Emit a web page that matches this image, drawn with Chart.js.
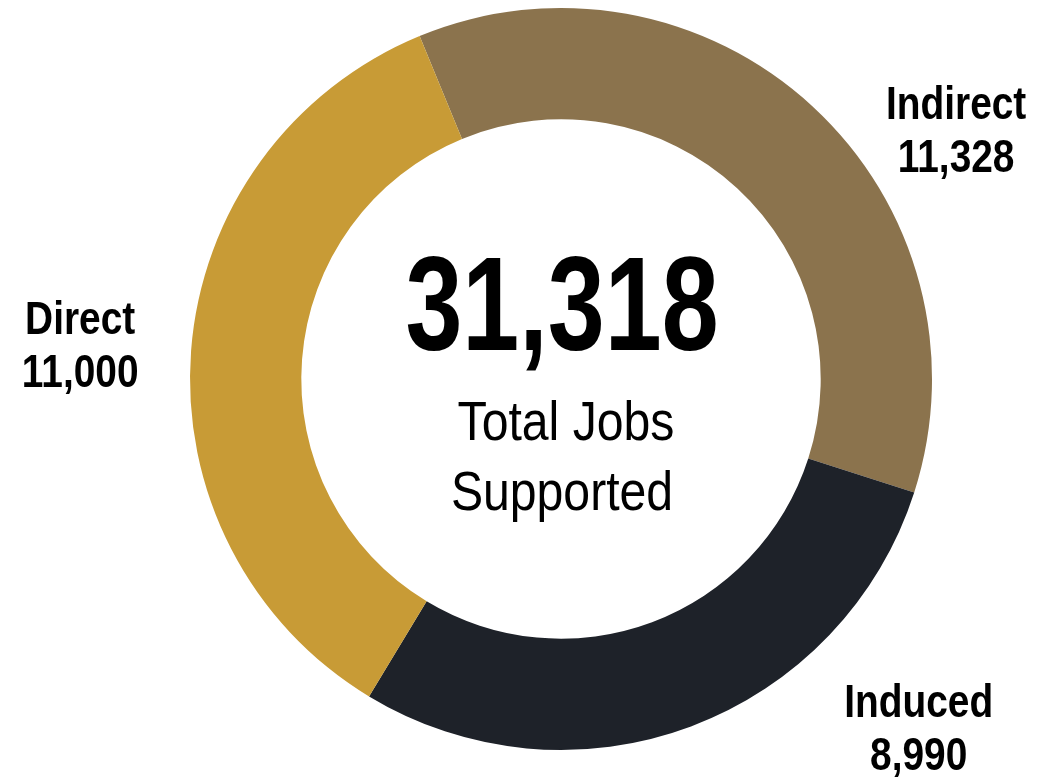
<!DOCTYPE html>
<html>
<head>
<meta charset="utf-8">
<script src="https://cdn.jsdelivr.net/npm/chart.js@4"></script>
<style>
  html, body { margin: 0; padding: 0; background: #fff; }
  canvas { display: block; }
</style>
</head>
<body>
<canvas id="jobsChart" width="1056" height="779"></canvas>
<script>
// Job categories and counts
const categories = ['Indirect', 'Induced', 'Direct'];
const jobs = [11328, 8990, 11000];
const colors = ['#8B734D', '#1E2229', '#C89B36'];
const totalLabel = '31,318';
const subLabel = ['Total Jobs', 'Supported'];

const FONT = '"Liberation Sans", Arial, sans-serif';

// label placement as fractions of the radius from the center
const labelSpots = [
  { dx: 1.065, dy: -0.701 },
  { dx: 0.964, dy: 0.911 },
  { dx: -1.296, dy: -0.121 }
];

function fmt(n) {
  return n.toLocaleString('en-US');
}

// the original uses a narrow face, so squeeze the text horizontally
function narrowText(ctx, text, x, y, sx) {
  ctx.save();
  ctx.translate(x, y);
  ctx.scale(sx, 1);
  ctx.fillText(text, 0, 0);
  ctx.restore();
}

const textPlugin = {
  id: 'textPlugin',
  afterDraw(chart) {
    const ctx = chart.ctx;
    const arc = chart.getDatasetMeta(0).data[0];
    const cx = arc.x, cy = arc.y, r = arc.outerRadius;

    ctx.save();
    ctx.fillStyle = '#000';
    ctx.textAlign = 'center';
    ctx.textBaseline = 'alphabetic';

    // center total
    ctx.font = 'bold 133px ' + FONT;
    narrowText(ctx, totalLabel, cx + 1, cy - 29, 0.77);
    ctx.font = '56px ' + FONT;
    narrowText(ctx, subLabel[0], cx + 5, cy + 61, 0.86);
    narrowText(ctx, subLabel[1], cx + 1, cy + 131, 0.86);

    // category labels
    ctx.font = 'bold 46px ' + FONT;
    categories.forEach((c, i) => {
      const x = cx + labelSpots[i].dx * r;
      const y = cy + labelSpots[i].dy * r;
      narrowText(ctx, c, x, y, 0.845);
      narrowText(ctx, fmt(jobs[i]), x, y + 53, 0.845);
    });
    ctx.restore();
  }
};

const ctx = document.getElementById('jobsChart').getContext('2d');
const jobsChart = new Chart(ctx, {
  type: 'doughnut',
  data: {
    labels: categories,
    datasets: [{
      data: jobs,
      backgroundColor: colors,
      borderWidth: 0
    }]
  },
  options: {
    responsive: false,
    animation: false,
    cutout: '70%',
    rotation: -22.4,
    layout: {
      padding: { left: 190, right: 124, top: 8, bottom: 29 }
    },
    plugins: {
      legend: { display: false },
      tooltip: { enabled: false }
    }
  },
  plugins: [textPlugin]
});
</script>
</body>
</html>
